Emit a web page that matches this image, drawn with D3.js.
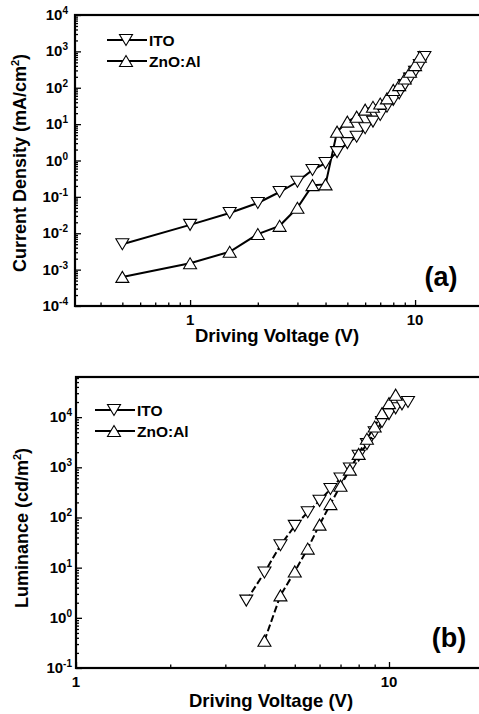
<!DOCTYPE html>
<html>
<head>
<meta charset="utf-8">
<script src="https://cdn.jsdelivr.net/npm/d3@7"></script>
<style>
  body { margin: 0; background: #fff; }
  text { font-family: "Liberation Sans", Arial, sans-serif; font-weight: bold; fill: #000; }
</style>
</head>
<body>
<div id="root"></div>
<script>
// panel (a): current density vs voltage
let itoVoltA = [0.5, 1, 1.5, 2, 2.5, 3, 3.5, 4, 4.5, 5, 5.5, 6, 6.5, 7, 7.5, 8, 8.5, 9, 9.5, 10, 10.5, 11];
let itoCurrent = [5.0e-3, 1.7e-2, 3.6e-2, 6.8e-2, 0.136, 0.26, 0.55, 0.85, 1.7, 3.0, 4.5, 7.7, 11.7, 17.8, 30, 46, 70, 118, 180, 275, 420, 700];
let znoVoltA = [0.5, 1, 1.5, 2, 2.5, 3, 3.5, 4, 4.5, 5, 5.5, 6, 6.5, 7, 7.5, 8, 8.5, 9, 9.5, 10, 10.5];
let znoCurrent = [6.3e-4, 1.5e-3, 3.1e-3, 9.5e-3, 0.016, 0.05, 0.21, 0.22, 6.2, 11.7, 16, 25, 30, 37, 51, 87, 118, 180, 275, 420, 710];

// panel (b): luminance vs voltage
let itoVoltB = [3.5, 4, 4.5, 5, 5.5, 6, 6.5, 7, 7.5, 8, 8.5, 9, 9.5, 10, 10.5, 11, 11.5];
let itoLum = [2.2, 8, 28, 68, 127, 215, 370, 600, 950, 1700, 2900, 5000, 8000, 11500, 15000, 18000, 20000];
let znoVoltB = [4, 4.5, 5, 5.5, 6, 6.5, 7, 7.5, 8, 8.5, 9, 9.5, 10, 10.5];
let znoLum = [0.35, 2.8, 8.4, 24, 72, 185, 430, 900, 1850, 3700, 6500, 12000, 19000, 28000];

let seriesNames = ['ITO', 'ZnO:Al'];
let xTickLabels = [1, 10];
let yExpA = [-4, -3, -2, -1, 0, 1, 2, 3, 4];
let yExpB = [-1, 0, 1, 2, 3, 4];

let svg = d3.select('#root').append('svg')
    .attr('width', 479)
    .attr('height', 714);

function triangle(down) {
    let w = 6.5, h = 5.5;
    return down
        ? `M${-w},${-h}L${w},${-h}L0,${h}Z`
        : `M${-w},${h}L${w},${h}L0,${-h}Z`;
}

function decadeMinors(lo, hi) {
    let out = [];
    for (let e = Math.floor(Math.log10(lo)); e <= Math.ceil(Math.log10(hi)); e++) {
        for (let m = 2; m <= 9; m++) {
            let v = m * Math.pow(10, e);
            if (v > lo && v < hi) out.push(v);
        }
    }
    return out;
}

function drawPanel(p) {
    let x = d3.scaleLog().domain(p.xDomain).range(p.xRange);
    let y = d3.scaleLog().domain(p.yDomain).range(p.yRange);
    let g = svg.append('g');
    let x0 = p.xRange[0], y0 = p.yRange[0];

    // ticks
    [
        d3.axisBottom(x).tickValues(decadeMinors(p.xDomain[0], p.xDomain[1])).tickSize(-3.5),
        d3.axisBottom(x).tickValues(xTickLabels).tickSize(-6)
    ].forEach(a => {
        g.append('g').attr('transform', `translate(0,${y0})`)
            .call(a.tickFormat('').tickSizeOuter(0))
            .call(s => s.select('.domain').remove())
            .selectAll('line').attr('stroke-width', 1.3);
    });
    [
        d3.axisLeft(y).tickValues(decadeMinors(p.yDomain[0], p.yDomain[1])).tickSize(-3),
        d3.axisLeft(y).tickValues(p.yExp.map(e => Math.pow(10, e))).tickSize(-6)
    ].forEach(a => {
        g.append('g').attr('transform', `translate(${x0},0)`)
            .call(a.tickFormat('').tickSizeOuter(0))
            .call(s => s.select('.domain').remove())
            .selectAll('line').attr('stroke-width', 1.3);
    });

    // frame
    g.append('rect')
        .attr('x', x0).attr('y', p.yRange[1])
        .attr('width', p.xRange[1] - x0).attr('height', y0 - p.yRange[1])
        .attr('fill', 'none').attr('stroke', '#000').attr('stroke-width', 2.2);

    // tick labels
    g.selectAll('.xl').data(xTickLabels).enter().append('text')
        .attr('x', d => x(d)).attr('y', y0 + 19)
        .attr('text-anchor', 'middle').attr('font-size', 15)
        .text(d => d);

    let yl = g.selectAll('.yl').data(p.yExp).enter().append('text')
        .attr('x', p.yLabelX).attr('y', d => y(Math.pow(10, d)) + 5)
        .attr('text-anchor', 'end').attr('font-size', 15);
    yl.append('tspan').text('10');
    yl.append('tspan').attr('dy', -6).attr('font-size', 10).text(d => d);

    // titles
    g.append('text')
        .attr('x', p.xTitle[0]).attr('y', p.xTitle[1])
        .attr('text-anchor', 'middle').attr('font-size', 18.5)
        .text('Driving Voltage (V)');
    let yt = g.append('text')
        .attr('transform', `translate(${p.yTitle[0]},${p.yTitle[1]}) rotate(-90)`)
        .attr('text-anchor', 'middle').attr('font-size', 18);
    yt.append('tspan').text(p.yTitleText);
    yt.append('tspan').attr('dy', -7).attr('font-size', 11).text('2');
    yt.append('tspan').attr('dy', 7).text(')');

    g.append('text')
        .attr('x', p.tag[0]).attr('y', p.tag[1])
        .attr('text-anchor', 'middle').attr('font-size', 27)
        .text(p.tagText);

    // lines then markers
    let series = [
        {v: p.itoV, d: p.itoY, down: true},
        {v: p.znoV, d: p.znoY, down: false}
    ];
    let line = d3.line().x(d => x(d[0])).y(d => y(d[1]));
    series.forEach(s => {
        g.append('path')
            .attr('d', line(d3.zip(s.v, s.d)))
            .attr('fill', 'none').attr('stroke', '#000')
            .attr('stroke-width', 2)
            .attr('stroke-dasharray', p.dash);
    });
    series.forEach(s => {
        g.selectAll(null).data(d3.zip(s.v, s.d)).enter().append('path')
            .attr('transform', d => `translate(${x(d[0])},${y(d[1])})`)
            .attr('d', triangle(s.down))
            .attr('fill', '#fff').attr('stroke', '#000').attr('stroke-width', 1.1);
    });

    // legend
    seriesNames.forEach((name, i) => {
        let ly = p.legend[1] + i * 21;
        g.append('line')
            .attr('x1', p.legend[0]).attr('x2', p.legend[0] + 40)
            .attr('y1', ly).attr('y2', ly)
            .attr('stroke', '#000').attr('stroke-width', 2);
        g.append('path')
            .attr('transform', `translate(${p.legend[0] + 19},${ly})`)
            .attr('d', triangle(i === 0))
            .attr('fill', '#fff').attr('stroke', '#000').attr('stroke-width', 1.1);
        g.append('text')
            .attr('x', p.legend[0] + 42).attr('y', ly + 5.5)
            .attr('font-size', 15.5)
            .text(name);
    });
}

drawPanel({
    xDomain: [0.308, 20], xRange: [75, 75 + 225 * Math.log10(20 / 0.308)],
    yDomain: [1e-4, 1e4], yRange: [306, 15],
    yExp: yExpA, yLabelX: 68,
    itoV: itoVoltA, itoY: itoCurrent, znoV: znoVoltA, znoY: znoCurrent,
    dash: null,
    xTitle: [277, 342], yTitle: [26, 163],
    yTitleText: 'Current Density (mA/cm',
    tag: [441, 286], tagText: '(a)',
    legend: [107, 40]
});

drawPanel({
    xDomain: [1, 20], xRange: [76, 76 + 313 * Math.log10(20)],
    yDomain: [0.1, Math.pow(10, 4.8)], yRange: [668, 377],
    yExp: yExpB, yLabelX: 72,
    itoV: itoVoltB, itoY: itoLum, znoV: znoVoltB, znoY: znoLum,
    dash: '7,3',
    xTitle: [271, 707], yTitle: [28, 528],
    yTitleText: 'Luminance (cd/m',
    tag: [449, 647], tagText: '(b)',
    legend: [95, 410]
});
</script>
</body>
</html>
